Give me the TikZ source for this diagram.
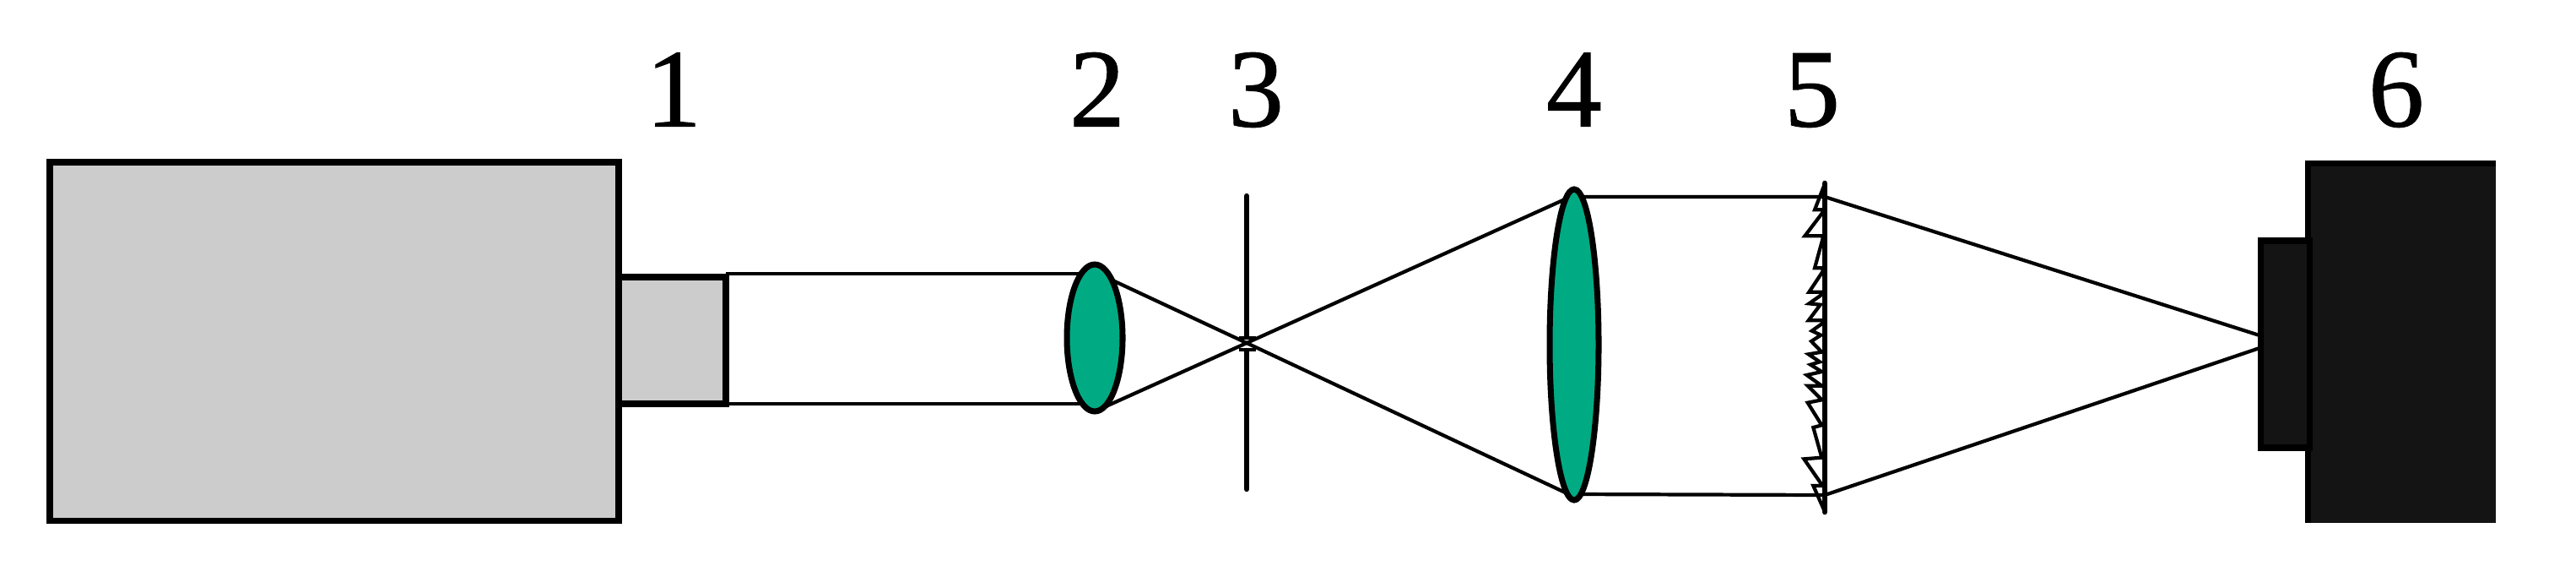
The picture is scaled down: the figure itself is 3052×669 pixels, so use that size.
\documentclass[tikz,border=0pt]{standalone}
\usepackage{fontspec}
\usepackage{xcolor}
\setmainfont{Liberation Serif}
\newfontfamily\digitfont[FakeBold=0.8]{Liberation Serif}
\definecolor{bodygrey}{HTML}{CCCCCC}
\definecolor{lensgreen}{HTML}{00AB84}
\definecolor{camblack}{HTML}{141414}
\tikzset{
    ray/.style={line width=1.2pt},
    boxline/.style={line width=2pt},
    lensline/.style={line width=2pt,fill=lensgreen},
    slitline/.style={line width=1.8pt,line cap=round},
    digit/.style={anchor=base,inner sep=0pt,font=\digitfont\fontsize{37.5}{40}\selectfont}
}
\begin{document}
\begin{tikzpicture}[x=0.01cm,y=-0.01cm]
    \useasboundingbox (0,0) rectangle (3052,669);
    % beam points
    \coordinate (stemtop) at (860,324);
    \coordinate (stembot) at (860,478);
    \coordinate (lenstop) at (1297,324);
    \coordinate (lensbot) at (1297,478);
    \coordinate (tiptop) at (1297,322);
    \coordinate (tipbot) at (1297,487);
    \coordinate (focus) at (1477,406);
    \coordinate (bigtop) at (1865,231);
    \coordinate (bigbot) at (1865,588);
    \coordinate (raytop) at (1865,233);
    \coordinate (raybot) at (1865,585);
    \coordinate (screentop) at (2162,233);
    \coordinate (screenbot) at (2162,586);
    \coordinate (camtop) at (2677,397);
    \coordinate (cambot) at (2677,412);
    % labels
    \foreach \n/\x in {1/798,2/1300,3/1488,4/1865,5/2147,6/2839}
        \node[digit] (num\n) at (\x,149.5) {\n};
    % laser
    \draw[boxline,fill=bodygrey] (59,192) rectangle (733,616);
    \draw[boxline,fill=bodygrey] (733,328) rectangle (860,478);
    % rays
    \draw[ray] (stemtop) -- (lenstop);
    \draw[ray] (stembot) -- (lensbot);
    \draw[ray] (tiptop) -- (focus) -- (bigbot);
    \draw[ray] (tipbot) -- (focus) -- (bigtop);
    \draw[ray] (raytop) -- (screentop) -- (camtop);
    \draw[ray] (raybot) -- (screenbot) -- (cambot);
    % pinhole
    \draw[slitline] (1477,232) -- (1477,399);
    \draw[slitline] (1477,415) -- (1477,579);
    \draw[ray] (1468,400) -- (1488,400);
    \draw[ray] (1468,414) -- (1488,414);
    % lenses
    \draw[lensline] (1297,400) ellipse (33 and 87);
    \draw[lensline] (1865,408) ellipse (29 and 184);
    % diffuser
    \draw[line width=1.9pt,line cap=round] (2162,217) -- (2162,606);
    \begin{scope}[shift={(2100,180)},scale=1/3]
        \draw[ray] (185,115) -- (150,205) -- (178,205) -- (178,215) -- (115,298) -- (178,298)
            -- (178,310) -- (150,412) -- (178,412) -- (178,425) -- (130,497) -- (178,497)
            -- (170,510) -- (130,538) -- (170,542) -- (128,598) -- (178,598) -- (178,608)
            -- (140,635) -- (172,650) -- (138,672) -- (175,710) -- (128,718) -- (168,745)
            -- (135,755) -- (175,780) -- (122,792) -- (175,830) -- (125,830) -- (175,880)
            -- (125,890) -- (175,970) -- (145,978) -- (175,1085) -- (112,1090) -- (178,1185)
            -- (145,1185) -- (185,1275);
    \end{scope}
    % camera
    \fill[camblack] (2731,190) rectangle (2957,619);
    \draw[boxline] (2734.5,619) -- (2734.5,193.5) -- (2957,193.5);
    \draw[boxline,fill=camblack] (2678.5,285) rectangle (2736,530);
\end{tikzpicture}
\end{document}
